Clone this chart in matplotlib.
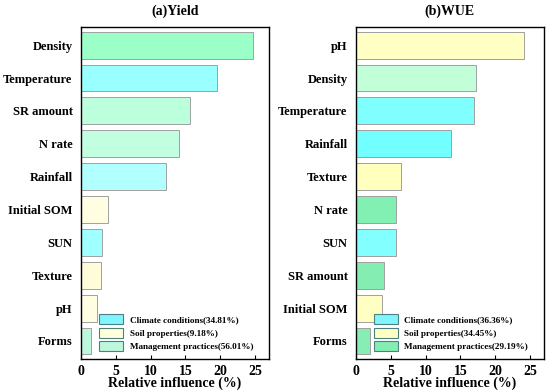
import matplotlib
matplotlib.use("Agg")
import matplotlib.pyplot as plt
from matplotlib.patches import Patch

plt.rcParams['font.family'] = ['Liberation Serif', 'DejaVu Serif']
plt.rcParams['font.weight'] = 'bold'

# (a) Yield
yield_labels = ["Density", "Temperature", "SR amount", "N rate", "Rainfall",
                "Initial SOM", "SUN", "Texture", "pH", "Forms"]
yield_values = [24.7, 19.5, 15.6, 14.1, 12.2, 3.9, 3.07, 2.9, 2.35, 1.5]
yield_colors = ["#9CFFC8", "#99FFFF", "#BCFFDC", "#C2FFE0", "#B2FFFF",
                "#FFFDE2", "#A0FFFF", "#FFFCDA", "#FFFDE2", "#BDF7DD"]
yield_legend = ["Climate conditions(34.81%)", "Soil properties(9.18%)",
                "Management practices(56.01%)"]
yield_legend_colors = ["#80F4FF", "#FFFDDA", "#BDF7DD"]

# (b) WUE
wue_labels = ["pH", "Density", "Temperature", "Rainfall", "Texture",
              "N rate", "SUN", "SR amount", "Initial SOM", "Forms"]
wue_values = [24.2, 17.3, 17.0, 13.6, 6.5, 5.8, 5.76, 4.1, 3.75, 1.99]
wue_colors = ["#FFFFC4", "#C2FFD8", "#80FFFF", "#72FFFF", "#FFFFBE",
              "#82F0B2", "#82FFFF", "#84EEB2", "#FFFFC4", "#86EEB4"]
wue_legend = ["Climate conditions(36.36%)", "Soil properties(34.45%)",
              "Management practices(29.19%)"]
wue_legend_colors = ["#80F4FF", "#FFFFC4", "#84EEB2"]

fig = plt.figure(figsize=(5.5, 3.92), dpi=100)
ax1 = fig.add_axes([0.147, 0.084, 0.342, 0.847])
ax2 = fig.add_axes([0.647, 0.084, 0.342, 0.847])


def draw(ax, labels, values, colors, leg_labels, leg_colors, title):
    pos = list(range(len(labels)))[::-1]
    ax.barh(pos, values, height=0.82, color=colors, edgecolor="#A0A0A0", linewidth=0.7)
    ax.set_yticks(pos)
    ax.set_yticklabels(labels, fontsize=9, fontweight='bold')
    ax.set_ylim(-0.55, 9.55)
    ax.set_xlim(0, 27)
    ax.set_xticks([0, 5, 10, 15, 20, 25])
    ax.tick_params(axis='x', direction='in', length=3, labelsize=10, pad=4)
    ax.tick_params(axis='y', length=0, pad=6)
    for lab in ax.get_xticklabels():
        lab.set_fontweight('bold')
    ax.set_xlabel("Relative influence (%)", fontsize=10, fontweight='bold', labelpad=-1)
    ax.set_title(title, fontsize=10, fontweight='bold', pad=9)
    for s in ax.spines.values():
        s.set_linewidth(1.0)
    handles = [Patch(facecolor=c, edgecolor="#4F8080", linewidth=0.8) for c in leg_colors]
    ax.legend(handles, leg_labels, loc='lower right', frameon=False,
              prop={'size': 6.6, 'weight': 'bold'}, handlelength=2.6,
              handleheight=1.3, labelspacing=0.4, handletextpad=0.7,
              borderaxespad=0.0, bbox_to_anchor=(0.935, 0.012))


draw(ax1, yield_labels, yield_values, yield_colors, yield_legend,
     yield_legend_colors, "(a)Yield")
draw(ax2, wue_labels, wue_values, wue_colors, wue_legend,
     wue_legend_colors, "(b)WUE")

fig.savefig("out.png", dpi=100)
